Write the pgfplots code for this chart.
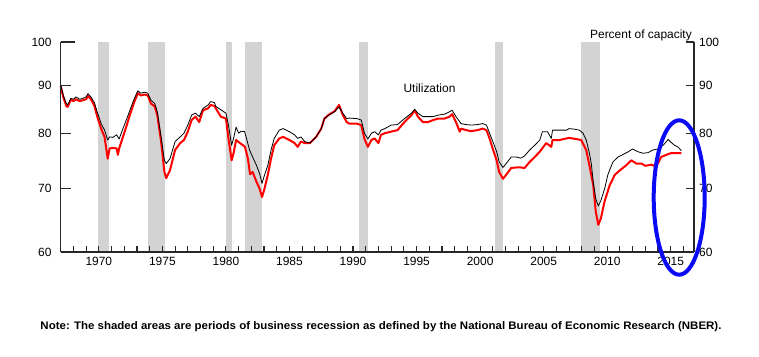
\documentclass[border=0pt]{standalone}
\usepackage{fontspec}
\setmainfont{Liberation Sans}
\usepackage{graphicx}
\usepackage{pgfplots}
\pgfplotsset{compat=1.18}
\definecolor{bandgray}{RGB}{211,211,211}
\definecolor{ured}{RGB}{255,0,0}
\definecolor{ublue}{RGB}{10,10,245}
\definecolor{axgray}{RGB}{40,40,40}
\pgfplotsset{myaxisbase/.style={at={(60.7bp,105bp)}, anchor=south west, scale only axis,
  width=633.3bp, height=210bp, xmin=1967, xmax=2016.83, ymin=60, ymax=100,
  axis x line=bottom, axis y line=box,
  axis line style={-, line width=1.2bp, axgray}, major tick length=0pt, minor tick length=0pt,
  /pgf/number format/assume math mode=true,
  tick label style={font=\fontsize{12}{14}\selectfont}}}
\begin{document}
\begin{tikzpicture}
\useasboundingbox (0,0) rectangle (759bp,357bp);
\begin{axis}[ymode=log, myaxisbase, clip=false,
  xtick={1970,1975,...,2015}, xticklabels={1970,1975,1980,1985,1990,1995,2000,2005,2010,2015},
  ytick={60,70,80,90,100}, yticklabels={60,70,80,90,100}, yticklabel pos=left,
  xticklabel style={inner sep=0pt, yshift=-4.5bp},
  yticklabel style={inner sep=0pt, xshift=-9bp}]
\addplot[fill=bandgray, draw=none] coordinates {(1969.92,60) (1970.83,60) (1970.83,100) (1969.92,100)} -- cycle;
\addplot[fill=bandgray, draw=none] coordinates {(1973.85,60) (1975.17,60) (1975.17,100) (1973.85,100)} -- cycle;
\addplot[fill=bandgray, draw=none] coordinates {(1980.0,60) (1980.5,60) (1980.5,100) (1980.0,100)} -- cycle;
\addplot[fill=bandgray, draw=none] coordinates {(1981.5,60) (1982.83,60) (1982.83,100) (1981.5,100)} -- cycle;
\addplot[fill=bandgray, draw=none] coordinates {(1990.5,60) (1991.17,60) (1991.17,100) (1990.5,100)} -- cycle;
\addplot[fill=bandgray, draw=none] coordinates {(2001.17,60) (2001.83,60) (2001.83,100) (2001.17,100)} -- cycle;
\addplot[fill=bandgray, draw=none] coordinates {(2007.92,60) (2009.42,60) (2009.42,100) (2007.92,100)} -- cycle;
% manufacturing (red)
\addplot[ured, line width=2bp, line join=round] coordinates {
(1967.0,89.8)(1967.2,87.5)(1967.45,85.5)(1967.55,85.4)(1967.8,86.9)(1968.0,86.6)(1968.2,87.0)(1968.5,86.6)(1968.75,86.8)(1969.0,87.0)(1969.15,87.7)(1969.4,86.9)(1969.65,85.6)(1969.92,83.0)(1970.18,81.0)(1970.45,79.4)(1970.7,75.3)(1970.85,77.2)(1971.1,77.3)(1971.4,77.2)(1971.5,76.0)(1971.6,77.2)(1971.9,79.4)(1972.2,81.7)(1972.4,83.4)(1972.8,86.5)(1973.07,88.3)(1973.3,87.8)(1973.6,88.0)(1973.85,87.8)(1974.1,86.1)(1974.4,85.5)(1974.6,83.7)(1974.9,78.5)(1975.16,72.9)(1975.3,71.8)(1975.6,73.2)(1976.0,76.9)(1976.4,78.2)(1976.7,78.8)(1977.0,80.4)(1977.3,82.7)(1977.6,83.4)(1977.9,82.3)(1978.2,84.7)(1978.6,85.1)(1978.8,85.8)(1979.1,85.6)(1979.2,85.1)(1979.6,83.4)(1980.0,83.0)(1980.2,79.1)(1980.45,75.0)(1980.6,76.3)(1980.8,78.8)(1981.1,78.2)(1981.35,77.8)(1981.5,77.5)(1981.73,75.3)(1981.9,72.5)(1982.1,72.9)(1982.4,71.2)(1982.65,70.0)(1982.84,68.6)(1983.0,69.7)(1983.3,72.4)(1983.55,75.3)(1983.8,77.8)(1984.2,79.1)(1984.5,79.4)(1985.0,78.8)(1985.4,78.2)(1985.65,77.5)(1985.9,78.5)(1986.2,78.2)(1986.6,78.2)(1987.1,79.4)(1987.5,81.0)(1987.75,83.0)(1988.1,83.8)(1988.55,84.5)(1988.9,85.8)(1989.2,83.7)(1989.5,82.3)(1989.7,82.0)(1990.3,82.0)(1990.65,81.7)(1990.9,79.0)(1991.17,77.5)(1991.45,78.8)(1991.7,79.1)(1992.0,78.2)(1992.2,79.8)(1992.5,80.1)(1993.0,80.4)(1993.5,80.7)(1994.05,82.3)(1994.6,83.7)(1994.85,84.7)(1995.1,83.4)(1995.5,82.3)(1995.9,82.3)(1996.3,82.7)(1996.7,83.0)(1997.2,83.0)(1997.6,83.4)(1997.8,83.9)(1998.1,82.3)(1998.4,80.4)(1998.5,81.0)(1998.9,80.7)(1999.3,80.5)(1999.8,80.7)(2000.2,81.0)(2000.5,80.7)(2000.7,79.4)(2001.0,77.1)(2001.3,75.0)(2001.5,72.9)(2001.8,71.7)(2002.05,72.4)(2002.45,73.6)(2002.85,73.7)(2003.2,73.7)(2003.5,73.6)(2003.9,74.7)(2004.3,75.6)(2004.7,76.6)(2005.2,78.2)(2005.6,77.5)(2005.7,78.8)(2006.25,78.8)(2006.8,79.1)(2007.0,79.2)(2007.5,79.0)(2007.95,78.8)(2008.35,76.9)(2008.6,74.1)(2008.9,70.6)(2009.1,66.2)(2009.3,64.1)(2009.5,65.1)(2009.8,67.9)(2010.2,70.6)(2010.6,72.4)(2011.0,73.2)(2011.5,74.1)(2011.9,75.0)(2012.3,74.4)(2012.7,74.4)(2013.0,74.0)(2013.5,74.2)(2013.85,73.8)(2014.25,75.6)(2014.65,76.0)(2015.0,76.3)(2015.4,76.3)(2015.83,76.3)};
% total industry (black)
\addplot[black, line width=0.8bp, line join=round] coordinates {
(1967.0,90.1)(1967.2,87.9)(1967.4,86.3)(1967.55,85.8)(1967.8,87.2)(1968.0,87.0)(1968.2,87.5)(1968.5,87.0)(1968.75,87.2)(1969.0,87.5)(1969.15,88.2)(1969.4,87.4)(1969.65,86.3)(1969.92,84.0)(1970.18,82.0)(1970.45,80.7)(1970.7,78.8)(1970.85,79.4)(1971.1,79.3)(1971.4,79.8)(1971.6,79.0)(1971.9,81.0)(1972.2,83.0)(1972.4,84.4)(1972.8,87.2)(1973.07,88.8)(1973.3,88.3)(1973.6,88.5)(1973.85,88.3)(1974.1,86.8)(1974.4,86.1)(1974.6,84.4)(1974.9,79.4)(1975.16,75.0)(1975.3,74.4)(1975.6,75.3)(1976.0,78.5)(1976.4,79.4)(1976.7,80.1)(1977.0,81.7)(1977.3,83.7)(1977.6,84.1)(1977.9,83.4)(1978.2,85.1)(1978.6,85.8)(1978.8,86.5)(1979.1,86.3)(1979.2,85.5)(1979.6,84.8)(1980.0,84.1)(1980.2,81.7)(1980.45,77.8)(1980.6,79.1)(1980.8,81.3)(1981.0,80.1)(1981.2,80.5)(1981.47,80.4)(1981.65,78.8)(1981.86,76.9)(1982.1,75.6)(1982.4,74.1)(1982.65,72.6)(1982.84,70.9)(1983.0,72.1)(1983.3,74.1)(1983.55,76.9)(1983.8,79.1)(1984.2,80.7)(1984.5,81.0)(1985.0,80.4)(1985.4,79.8)(1985.65,79.1)(1985.9,79.4)(1986.2,78.5)(1986.6,78.2)(1987.1,79.4)(1987.5,81.0)(1987.75,83.0)(1988.1,83.7)(1988.55,84.4)(1988.9,85.4)(1989.2,84.1)(1989.5,83.0)(1989.7,83.1)(1990.3,83.0)(1990.65,82.7)(1990.9,80.1)(1991.17,79.0)(1991.45,80.1)(1991.7,80.4)(1992.0,79.8)(1992.2,80.7)(1992.5,81.0)(1993.0,81.7)(1993.5,81.8)(1994.05,83.0)(1994.6,84.1)(1994.85,84.9)(1995.1,84.1)(1995.5,83.4)(1995.9,83.4)(1996.3,83.4)(1996.7,83.7)(1997.2,83.9)(1997.6,84.4)(1997.8,84.7)(1998.1,83.4)(1998.5,82.0)(1998.9,81.8)(1999.3,81.7)(1999.8,81.8)(2000.2,82.0)(2000.5,81.7)(2000.7,80.4)(2001.0,78.5)(2001.3,76.6)(2001.5,74.7)(2001.8,73.7)(2002.05,74.4)(2002.45,75.6)(2002.85,75.6)(2003.2,75.4)(2003.5,75.8)(2003.9,76.9)(2004.3,77.8)(2004.7,78.8)(2004.9,80.4)(2005.3,80.4)(2005.6,79.1)(2005.7,80.7)(2006.25,80.7)(2006.8,80.7)(2007.0,81.0)(2007.4,80.9)(2007.8,80.7)(2008.1,80.1)(2008.35,78.8)(2008.6,76.3)(2008.75,74.4)(2008.9,71.2)(2009.1,68.3)(2009.3,67.1)(2009.5,68.0)(2009.8,70.0)(2010.05,72.4)(2010.45,74.7)(2010.85,75.6)(2011.2,76.0)(2011.6,76.5)(2012.0,77.1)(2012.4,76.6)(2012.8,76.3)(2013.2,76.4)(2013.6,76.9)(2014.0,77.1)(2014.4,77.8)(2014.8,78.9)(2015.0,78.4)(2015.3,77.8)(2015.55,77.5)(2015.83,76.8)};
% tick marks
\pgfplotsinvokeforeach{1967,1968,...,2016}{\draw[axgray, line width=1.1bp] (axis cs:#1,60) -- ++(0bp,6bp);}
\pgfplotsinvokeforeach{60,70,80,90}{\draw[axgray, line width=1.1bp] (axis cs:1967,#1) -- ++(10bp,0bp);}
\pgfplotsinvokeforeach{60,70,80,90,100}{\draw[axgray, line width=1.1bp] (axis cs:2016.83,#1) -- ++(-8bp,0bp);}
\draw[axgray, line width=1.1bp] (axis cs:1967,100) -- ++(14bp,0bp);
\end{axis}
\begin{axis}[ymode=log, myaxisbase, xtick=\empty,
  ytick={60,70,80,90,100}, yticklabels={60,70,80,90,100},
  yticklabel pos=right,
  yticklabel style={inner sep=0pt, xshift=5bp}]
\end{axis}
\node[anchor=base east, inner sep=0pt, font=\fontsize{12}{14}\selectfont] at (692bp,318.5bp) {Percent of capacity};
\node[anchor=base, inner sep=0pt, font=\fontsize{12}{14}\selectfont] at (429.5bp,264bp) {Utilization};
\draw[ublue, line width=4bp] (679.2bp,159.5bp) ellipse [x radius=25.5bp, y radius=77.2bp];
\node[anchor=base, inner sep=0pt] at (381bp,28bp) {\resizebox{681bp}{\height}{\fontsize{11}{13}\selectfont\bfseries Note: The shaded areas are periods of business recession as defined by the National Bureau of Economic Research (NBER).}};
\end{tikzpicture}
\end{document}
